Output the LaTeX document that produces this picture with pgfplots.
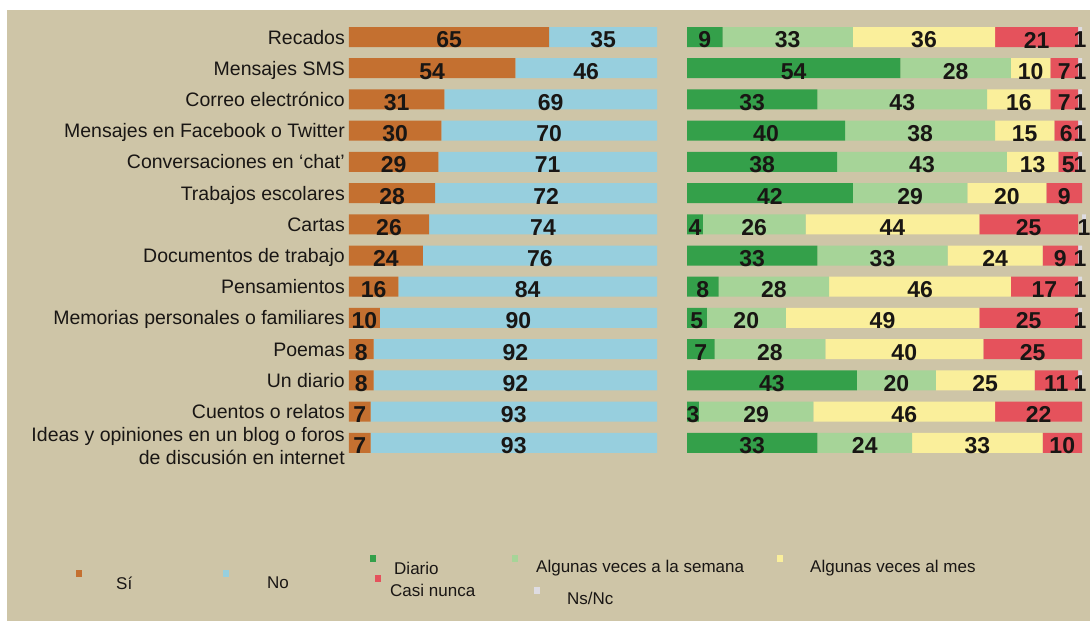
\documentclass[border=0pt]{standalone}
\usepackage{pgfplots}
\pgfplotsset{compat=1.18}
\usepackage{fontspec}
\setmainfont{Liberation Sans}
\definecolor{bg}{RGB}{206,197,167}
\definecolor{cbrown}{RGB}{196,112,48}
\definecolor{cblue}{RGB}{151,207,222}
\definecolor{cdgreen}{RGB}{52,160,74}
\definecolor{clgreen}{RGB}{166,212,152}
\definecolor{cyellow}{RGB}{250,239,155}
\definecolor{cred}{RGB}{229,82,92}
\definecolor{cgrey}{RGB}{222,220,226}
\definecolor{txt}{RGB}{25,22,20}
\pgfplotsset{
  mybars/.style={
    scale only axis, xbar stacked, bar width=20pt,
    xmin=0, xmax=100, ymin=0.5, ymax=14.5, y dir=reverse,
    axis lines=left, axis line style={draw=none}, major tick length=0pt,
    xtick=\empty, clip=false,
    visualization depends on=rawx \as \rawx,
    nodes near coords={\pgfmathprintnumber[assume math mode=true,fixed,precision=0]{\rawx}},
    every node near coord/.append style={anchor=center, text=txt, inner sep=0pt,
      font=\bfseries\fontsize{23}{23}\selectfont, yshift=-3pt},
  },
}
\begin{document}
\begin{tikzpicture}
\useasboundingbox (0pt,0pt) rectangle (1090pt,-621pt);
\fill[white] (0pt,0pt) rectangle (1090pt,-621pt);
\fill[bg] (7pt,-10pt) rectangle (1090pt,-621pt);

\begin{axis}[mybars, at={(349pt,-21.4pt)}, anchor=north west, width=308pt, height=437pt,
  ytick={1,...,14},
  yticklabels={Recados, Mensajes SMS, Correo electrónico, Mensajes en Facebook o Twitter,
    Conversaciones en ‘chat’, Trabajos escolares, Cartas, Documentos de trabajo,
    Pensamientos, Memorias personales o familiares, Poemas, Un diario, Cuentos o relatos,
    {\raisebox{-4pt}{\begin{tabular}{@{}r@{}}Ideas y opiniones en un blog o foros\\de discusión en internet\end{tabular}}}},
  yticklabel style={font=\fontsize{19.5}{23}\selectfont, text=txt, anchor=base east,
    inner xsep=0pt, inner ysep=0pt, xshift=-4pt, yshift=-7pt},
]
\addplot[fill=cbrown, draw=none] coordinates {(65,1) (54,2) (31,3) (30,4) (29,5) (28,6) (26,7) (24,8) (16,9) (10,10) (8,11) (8,12) (7,13) (7,14)};
\addplot[fill=cblue, draw=none] coordinates {(35,1) (46,2) (69,3) (70,4) (71,5) (72,6) (74,7) (76,8) (84,9) (90,10) (92,11) (92,12) (93,13) (93,14)};
\end{axis}

\begin{axis}[mybars, at={(687pt,-21.4pt)}, anchor=north west, width=395pt, height=437pt,
  ytick=\empty]
\addplot[fill=cdgreen, draw=none] coordinates {(9,1) (54,2) (33,3) (40,4) (38,5) (42,6) (4,7) (33,8) (8,9) (5,10) (7,11) (43,12) (3,13) (33,14)};
\addplot[fill=clgreen, draw=none] coordinates {(33,1) (28,2) (43,3) (38,4) (43,5) (29,6) (26,7) (33,8) (28,9) (20,10) (28,11) (20,12) (29,13) (24,14)};
\addplot[fill=cyellow, draw=none] coordinates {(36,1) (10,2) (16,3) (15,4) (13,5) (20,6) (44,7) (24,8) (46,9) (49,10) (40,11) (25,12) (46,13) (33,14)};
\addplot[fill=cred, draw=none] coordinates {(21,1) (7,2) (7,3) (6,4) (5,5) (9,6) (25,7) (9,8) (17,9) (25,10) (25,11) (11,12) (22,13) (10,14)};
\addplot[fill=cgrey, draw=none] coordinates {(1,1) (1,2) (1,3) (1,4) (1,5) (1,7) (1,8) (1,9) (1,10) (1,12)};
\end{axis}

% legend
\begin{scope}[font=\fontsize{17}{19}\selectfont, text=txt]
\fill[cbrown] (76pt,-570pt) rectangle (82pt,-577pt);
\node[anchor=west, inner sep=0pt] at (116pt,-583pt) {Sí};
\fill[cblue] (223pt,-570pt) rectangle (229pt,-577pt);
\node[anchor=west, inner sep=0pt] at (267pt,-583pt) {No};
\fill[cdgreen] (370pt,-555pt) rectangle (376pt,-562pt);
\node[anchor=west, inner sep=0pt] at (394pt,-568pt) {Diario};
\fill[cred] (375pt,-575pt) rectangle (381pt,-582pt);
\node[anchor=west, inner sep=0pt] at (390pt,-590pt) {Casi nunca};
\fill[clgreen] (512pt,-555pt) rectangle (518pt,-562pt);
\node[anchor=west, inner sep=0pt] at (536pt,-568pt) {Algunas veces a la semana};
\fill[cgrey] (534pt,-587pt) rectangle (540pt,-594pt);
\node[anchor=west, inner sep=0pt] at (567pt,-598pt) {Ns/Nc};
\fill[cyellow] (777pt,-555pt) rectangle (783pt,-562pt);
\node[anchor=west, inner sep=0pt] at (810pt,-568pt) {Algunas veces al mes};
\end{scope}
\end{tikzpicture}
\end{document}
